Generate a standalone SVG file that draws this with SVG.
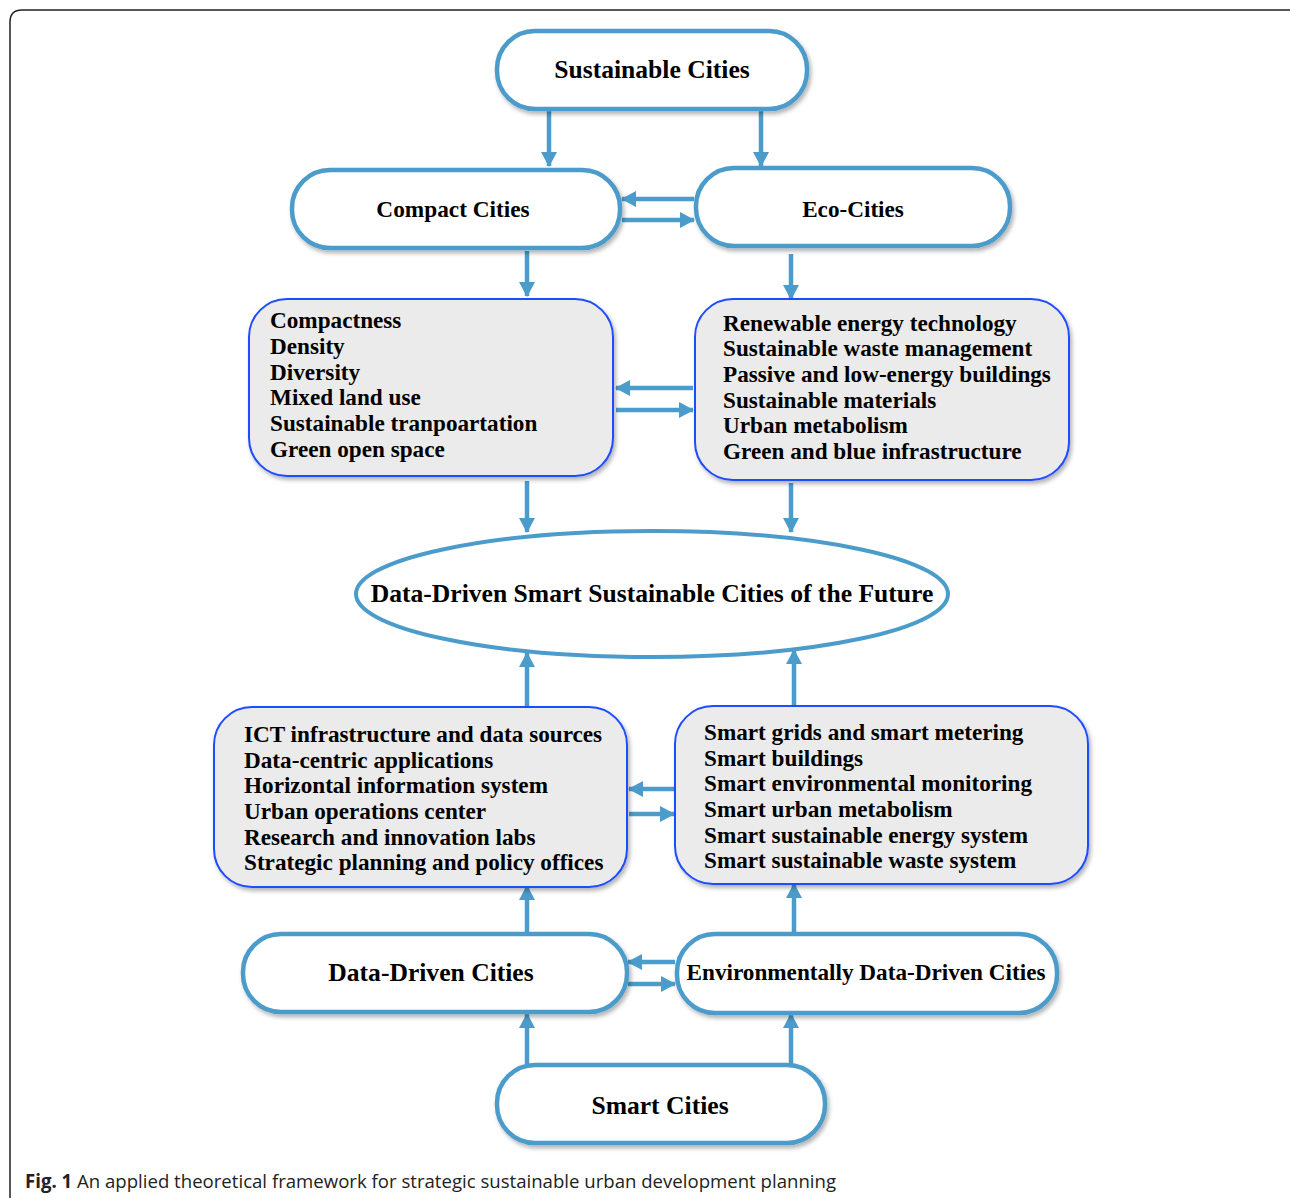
<svg xmlns="http://www.w3.org/2000/svg" width="1290" height="1198" viewBox="0 0 1290 1198">
<style>
.pill{fill:#fff;stroke:#4b9ccb;stroke-width:4.5;filter:url(#sh)}
.box{fill:#ebebeb;stroke:#1f4dff;stroke-width:2;filter:url(#sh)}
.t{font-family:"Liberation Serif","Times New Roman",serif;font-weight:bold;fill:#000}
.h{font-size:25.6px;text-anchor:middle}
.l{font-size:23.2px}
.c{stroke:#4b9ccb;stroke-width:4.5;fill:none;marker-end:url(#ah)}
</style>
<defs>
<filter id="sh" x="-10%" y="-10%" width="120%" height="130%">
<feDropShadow dx="2" dy="3" stdDeviation="2" flood-color="#000" flood-opacity="0.3"/>
</filter>
<marker id="ah" markerUnits="userSpaceOnUse" markerWidth="16" markerHeight="16" refX="14" refY="8" orient="auto">
<path d="M0,0 L15,8 L0,16 Z" fill="#4b9ccb"/>
</marker>
</defs>
<path d="M10,1198 V22 Q10,10 22,10 H1290" fill="none" stroke="#222" stroke-width="1.5"/>

<g id="connectors">
<line class="c" x1="549" y1="111" x2="549" y2="166"/>
<line class="c" x1="761" y1="111" x2="761" y2="166"/>
<line class="c" x1="694" y1="199" x2="622" y2="199"/>
<line class="c" x1="622" y1="220" x2="694" y2="220"/>
<line class="c" x1="527" y1="251" x2="527" y2="296"/>
<line class="c" x1="791" y1="254" x2="791" y2="299"/>
<line class="c" x1="693" y1="388" x2="616" y2="388"/>
<line class="c" x1="616" y1="410" x2="693" y2="410"/>
<line class="c" x1="527" y1="481" x2="527" y2="532"/>
<line class="c" x1="791" y1="483" x2="791" y2="532"/>
<line class="c" x1="527" y1="706" x2="527" y2="653"/>
<line class="c" x1="794" y1="706" x2="794" y2="650"/>
<line class="c" x1="674" y1="789" x2="629" y2="789"/>
<line class="c" x1="629" y1="814" x2="674" y2="814"/>
<line class="c" x1="527" y1="934" x2="527" y2="886"/>
<line class="c" x1="794" y1="934" x2="794" y2="884"/>
<line class="c" x1="675" y1="962" x2="628" y2="962"/>
<line class="c" x1="628" y1="984" x2="675" y2="984"/>
<line class="c" x1="527" y1="1064" x2="527" y2="1014"/>
<line class="c" x1="791" y1="1064" x2="791" y2="1014"/>
</g>

<g id="sustainable">
<rect class="pill" x="497" y="31" width="310" height="78" rx="38"/>
<text class="t h" x="652" y="78">Sustainable Cities</text>
</g>
<g id="compact">
<rect class="pill" x="292" y="170" width="328" height="78" rx="38"/>
<text class="t h" x="453" y="217" style="font-size:23.3px">Compact Cities</text>
</g>
<g id="eco">
<rect class="pill" x="696" y="168" width="314" height="78" rx="38"/>
<text class="t h" x="853" y="217" style="font-size:23.2px">Eco-Cities</text>
</g>
<g id="compact-list">
<rect class="box" x="249" y="299" width="364" height="177" rx="38"/>
<text class="t l" x="270" y="328">Compactness</text>
<text class="t l" x="270" y="354">Density</text>
<text class="t l" x="270" y="380">Diversity</text>
<text class="t l" x="270" y="405">Mixed land use</text>
<text class="t l" x="270" y="431">Sustainable tranpoartation</text>
<text class="t l" x="270" y="457">Green open space</text>
</g>
<g id="eco-list">
<rect class="box" x="695" y="299" width="374" height="181" rx="38"/>
<text class="t l" x="723" y="331">Renewable energy technology</text>
<text class="t l" x="723" y="356">Sustainable waste management</text>
<text class="t l" x="723" y="382">Passive and low-energy buildings</text>
<text class="t l" x="723" y="408">Sustainable materials</text>
<text class="t l" x="723" y="433">Urban metabolism</text>
<text class="t l" x="723" y="459">Green and blue infrastructure</text>
</g>
<g id="future">
<ellipse cx="652" cy="594" rx="296" ry="63" fill="#fff" stroke="#4b9ccb" stroke-width="4"/>
<text class="t h" x="652" y="602">Data-Driven Smart Sustainable Cities of the Future</text>
</g>
<g id="data-list">
<rect class="box" x="214" y="707" width="413" height="180" rx="38"/>
<text class="t l" x="244" y="742">ICT infrastructure and data sources</text>
<text class="t l" x="244" y="768">Data-centric applications</text>
<text class="t l" x="244" y="793">Horizontal information system</text>
<text class="t l" x="244" y="819">Urban operations center</text>
<text class="t l" x="244" y="845">Research and innovation labs</text>
<text class="t l" x="244" y="870">Strategic planning and policy offices</text>
</g>
<g id="env-list">
<rect class="box" x="675" y="706" width="413" height="178" rx="38"/>
<text class="t l" x="704" y="740">Smart grids and smart metering</text>
<text class="t l" x="704" y="766">Smart buildings</text>
<text class="t l" x="704" y="791">Smart environmental monitoring</text>
<text class="t l" x="704" y="817">Smart urban metabolism</text>
<text class="t l" x="704" y="843">Smart sustainable energy system</text>
<text class="t l" x="704" y="868">Smart sustainable waste system</text>
</g>
<g id="datadriven">
<rect class="pill" x="243" y="934" width="384" height="78" rx="38"/>
<text class="t h" x="431" y="981">Data-Driven Cities</text>
</g>
<g id="envdriven">
<rect class="pill" x="677" y="934" width="380" height="79" rx="38"/>
<text class="t h" x="866" y="980" style="font-size:23.2px">Environmentally Data-Driven Cities</text>
</g>
<g id="smart">
<rect class="pill" x="497" y="1065" width="328" height="78" rx="38"/>
<text class="t h" x="660" y="1114">Smart Cities</text>
</g>
<text x="25" y="1188" font-family="'Open Sans','Liberation Sans',sans-serif" font-size="19" fill="#222" textLength="811" lengthAdjust="spacingAndGlyphs"><tspan font-weight="bold">Fig. 1</tspan> An applied theoretical framework for strategic sustainable urban development planning</text>
</svg>
